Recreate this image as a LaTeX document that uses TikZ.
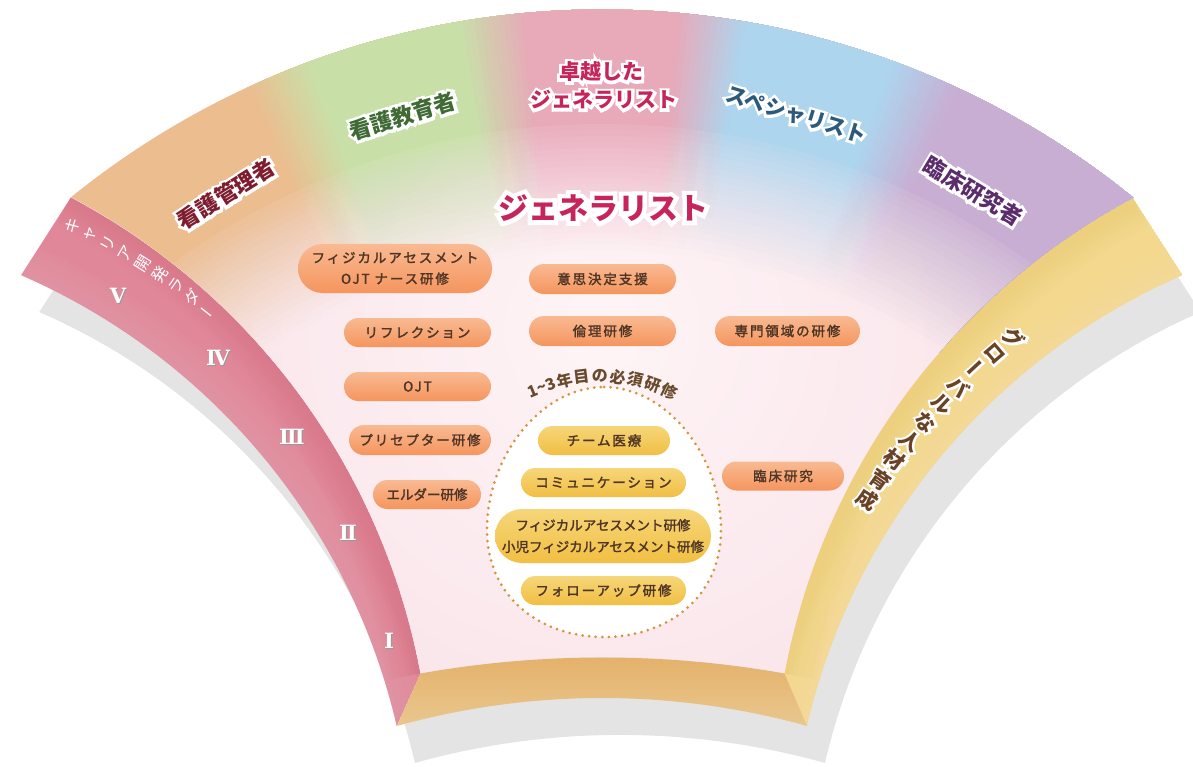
\documentclass[tikz,border=0pt]{standalone}
\usepackage{fontspec}
\setmainfont{Noto Sans CJK JP}
\newfontfamily\jp{Noto Sans CJK JP}
\newfontfamily\jpls{Noto Sans CJK JP}[LetterSpace=14,FakeBold=2]
\newfontfamily\jpmd{Noto Sans CJK JP}[FakeBold=2]
\newfontfamily\romn{DejaVu Serif}
\usetikzlibrary{calc,shapes.misc}

\definecolor{shadowC}{HTML}{E4E4E4}
\definecolor{faceC}{HTML}{F8E0E7}
\definecolor{glowC}{HTML}{FEF4F6}
\definecolor{secO}{HTML}{ECBD8F}
\definecolor{secG}{HTML}{C8E0A8}
\definecolor{secP}{HTML}{E8A9B9}
\definecolor{secB}{HTML}{ADD5EE}
\definecolor{secV}{HTML}{C8AED3}
\definecolor{bandP}{HTML}{E0889A}
\definecolor{bandPd}{HTML}{D46C80}
\definecolor{bandPl}{HTML}{EBA2AD}
\definecolor{bandY}{HTML}{F3D88E}
\definecolor{bandYd}{HTML}{EDCA72}
\definecolor{bandYl}{HTML}{F7E1A2}
\definecolor{wallT}{HTML}{E4B068}
\definecolor{wallB}{HTML}{E9C78E}
\definecolor{pillOt}{HTML}{F9BA92}
\definecolor{pillOb}{HTML}{F5955E}
\definecolor{pillYt}{HTML}{F6D679}
\definecolor{pillYb}{HTML}{F1BF43}
\definecolor{pillTx}{HTML}{4E3526}
\definecolor{dotC}{HTML}{D8923A}
\definecolor{arcTx}{HTML}{6A4A2C}
\definecolor{hdMgr}{HTML}{7E1D30}
\definecolor{hdEdu}{HTML}{3F6A34}
\definecolor{hdGen}{HTML}{C6245A}
\definecolor{hdSpc}{HTML}{2D5A7C}
\definecolor{hdRes}{HTML}{5B2D6C}
\definecolor{bandTx}{HTML}{6A4327}

\tikzset{
  pill/.style={rounded rectangle, inner sep=0pt, text=pillTx, align=center,
    font=\jpls\fontsize{13.5}{21}\selectfont},
  pillO/.style={pill, top color=pillOt, bottom color=pillOb},
  pillY/.style={pill, top color=pillYt, bottom color=pillYb},
  tight/.style={font=\jpmd\fontsize{13.5}{21.5}\selectfont},
  roman/.style={text=white, inner sep=0pt, font=\romn\bfseries\fontsize{21}{21}\selectfont},
  eggline/.style={draw=dotC, line width=3pt, line cap=round, dash pattern=on 0pt off 6.6pt},
}

% text with a white halo, in one box: #1 halo strength, #2 colour, #3 text
\newcommand\halobox[3]{\leavevmode\rlap{\addfontfeature{FakeBold=#1}\color{white}#3}{\color{#2}#3}}
% #1 name, #2 position, #3 rotation, #4 colour, #5 font, #6 halo strength, #7 text
\newcommand\halotext[7]{%
  \node[rotate=#3, font={#5}, inner sep=0pt] (#1) at #2 {\halobox{#6}{#4}{#7}};
}

% opaque colour wedge from angle #1 to the right end of the fan
\newcommand\secfill[2]{%
  \fill[#2] (#1:870) arc[start angle=#1,end angle=-35,radius=870] -- (-35:604) arc[start angle=-35,end angle=#1,radius=604] -- cycle;}

\def\outlinepath{(21.2,275.1) -- (70.9,198.1) arc[start angle=-129,end angle=-51,radius=844]
  -- (1182.6,275.1) arc[start angle=-113.5,end angle=-166.9,radius=653]
  arc[start angle=-74.44,end angle=-105.56,radius=764.4]
  arc[start angle=-13.1,end angle=-66.5,radius=653] -- cycle}
\def\facepath{(70.8,197.5) arc[start angle=-129,end angle=-51,radius=844]
  arc[start angle=-118.1,end angle=-169.4,radius=681]
  arc[start angle=-79.95,end angle=-100.05,radius=1043]
  arc[start angle=-10.6,end angle=-62,radius=681] -- cycle}
\def\pinkpath{(70.8,197.5) arc[start angle=-62,end angle=-10.6,radius=681]
  -- (396.8,726) arc[start angle=-13.1,end angle=-66.5,radius=653] -- cycle}
\def\yellowpath{(1133.1,198.1) -- (1182.6,275.1) arc[start angle=-113.5,end angle=-166.9,radius=653]
  -- (784.5,673.5) arc[start angle=-169.4,end angle=-118.1,radius=681] -- cycle}
\def\wallpath{(420.5,673.5) arc[start angle=-100.05,end angle=-79.95,radius=1043]
  -- (807,726) arc[start angle=-74.44,end angle=-105.56,radius=764.4] -- cycle}

\begin{document}
\begin{tikzpicture}[x=1pt,y=-1pt]
\useasboundingbox (0,0) rectangle (1193,767);

% shadow
\fill[shadowC, shift={(18,37)}] \outlinepath;

% left band
\begin{scope}
  \clip \pinkpath;
  \fill[bandP] \pinkpath;
  \foreach \w in {8,16,...,64}{
    \draw[bandPl, line width=\w, opacity=0.09] (21.2,275.1) arc[start angle=-66.5,end angle=-13.1,radius=653];
    \draw[bandPd, line width=\w, opacity=0.07] (70.8,197.5) arc[start angle=-62,end angle=-10.6,radius=681];
  }
\end{scope}

% right band
\begin{scope}
  \clip \yellowpath;
  \fill[bandY] \yellowpath;
  \foreach \w in {8,16,...,64}{
    \draw[bandYl, line width=\w, opacity=0.1] (1182.6,275.1) arc[start angle=-113.5,end angle=-166.9,radius=653];
    \draw[bandYd, line width=\w, opacity=0.08] (1133.1,198.1) arc[start angle=-118.1,end angle=-169.4,radius=681];
  }
\end{scope}

% bottom wall
\shade[top color=wallT, bottom color=wallB] \wallpath;

% face
\begin{scope}
  \clip \facepath;
  \fill[faceC] \facepath;
  \shade[inner color=glowC, outer color=faceC] (602,330) circle (560);
  % coloured career sectors (opaque, overlapping to avoid seams)
  \begin{scope}[shift={(602,854)}]
    \secfill{-145}{secO}
    \foreach \th/\ca/\cb in {-112.5/secO/secG,-97.5/secG/secP,-82.5/secP/secB,-67.5/secB/secV}{
      \foreach \k in {0,...,11}{
        \pgfmathsetmacro\aa{\th-2.4+0.4*\k}
        \pgfmathsetmacro\m{100-(\k+0.5)*100/12}
        \secfill{\aa}{\ca!\m!\cb}
      }
      \pgfmathsetmacro\aa{\th+2.4}
      \secfill{\aa}{\cb}
    }
  \end{scope}
  % fade the sectors back into the face, nested covers
  \xdef\fprev{1}
  \foreach \r in {730,724,...,610}{
    \pgfmathsetmacro\fk{0.92*pow((\r-607)/126,1.3)}
    \pgfmathsetmacro\al{1-\fk/\fprev}
    \xdef\fprev{\fk}
    \begin{scope}
      \clip[shift={(602,854)}] (-145:\r) arc[start angle=-145,end angle=-35,radius=\r] -- (-35:590) arc[start angle=-35,end angle=-145,radius=590] -- cycle;
      \shade[opacity=\al, inner color=glowC, outer color=faceC] (602,330) circle (560);
    \end{scope}
  }
\end{scope}

% headings
\halotext{hMgr}{(226,194)}{32}{hdMgr}{\jp\bfseries\fontsize{22}{22}\selectfont}{26}{看護管理者}
\halotext{hEdu}{(403,116)}{17}{hdEdu}{\jp\bfseries\fontsize{22}{22}\selectfont}{26}{看護教育者}
\halotext{hTopA}{(601,72)}{0}{hdGen}{\jp\bfseries\fontsize{21}{21}\selectfont}{27}{卓越した}
\halotext{hTopB}{(604,100)}{0}{hdGen}{\jp\bfseries\fontsize{21}{21}\selectfont}{27}{ジェネラリスト}
\halotext{hSpc}{(796,115)}{-17}{hdSpc}{\jp\bfseries\fontsize{21}{21}\selectfont}{27}{スペシャリスト}
\halotext{hRes}{(973,191)}{-31}{hdRes}{\jp\bfseries\fontsize{22}{22}\selectfont}{26}{臨床研究者}
\halotext{hGen}{(603,208)}{0}{hdGen}{\jp\bfseries\fontsize{30}{30}\selectfont}{30}{ジェネラリスト}

% left band text (vertical writing along the band)
\foreach \ch/\ex [count=\i from 0] in {キ/0,ャ/0,リ/0,ア/0,開/0,発/0,ラ/0,ダ/0,ー/90}{
  \pgfmathsetmacro\t{-64.3+1.59*\i}
  \pgfmathsetmacro\rot{-\t+\ex}
  \node[rotate=\rot, text=white, inner sep=0pt, font=\jp\fontsize{16}{16}\selectfont] (lad\i) at ($(-239.2,874)+(\t:720)$) {\ch};
}

% right band text
\foreach \ch/\ex [count=\i from 0] in {グ/0,ロ/0,ー/90,バ/0,ル/0,な/0,人/0,材/0,育/0,成/0}{
  \pgfmathsetmacro\t{-128.7-2.033*\i}
  \pgfmathsetmacro\rot{-\t-180+\ex}
  \halotext{glo\i}{($(1443,874)+(\t:687)$)}{\rot}{bandTx}{\jp\bfseries\fontsize{20.5}{20.5}\selectfont}{22}{\ch}
}

% roman numerals
\foreach \nm/\px/\py/\txt in {r5/118/296/Ⅴ, r4/218/358/Ⅳ, r3/292/437/Ⅲ, r2/348/533/Ⅱ, r1/389/641/Ⅰ}{
  \node[roman] (\nm) at (\px,\py) {\leavevmode\rlap{\color{black!40}\raisebox{-1.2pt}{\kern1pt\txt}}\txt};
}

% egg
\draw[eggline, fill=white] (604,387) .. controls (666,387) and (721,455) .. (721,530)
  .. controls (721,597) and (668,637) .. (604,637)
  .. controls (540,637) and (487,597) .. (487,530)
  .. controls (487,455) and (542,387) .. (604,387) -- cycle;

% curved label
\foreach \ch/\t [count=\i] in {1{\textasciitilde}3/-112.3,年/-103.5,目/-96.9,の/-90.4,必/-83.8,須/-77.2,研/-70.7,修/-64.1}{
  \pgfmathsetmacro\rot{-(\t+90)}
  \node[text=arcTx, inner sep=0pt, rotate=\rot, font=\jp\bfseries\fontsize{16}{16}\selectfont] (arc\i) at ($(601,533)+(\t:157)$) {\ch};
}

% orange pills
\node[pillO, minimum width=194pt, minimum height=49pt] (p1) at (395,268.5) {フィジカルアセスメント\\OJT ナース研修};
\node[pillO, minimum width=147pt, minimum height=30pt] (p2) at (602.5,279) {意思決定支援};
\node[pillO, minimum width=147pt, minimum height=29pt] (p3) at (417.5,332.5) {リフレクション};
\node[pillO, minimum width=147pt, minimum height=30pt] (p4) at (602.5,331) {倫理研修};
\node[pillO, minimum width=145pt, minimum height=30pt] (p5) at (787.5,331) {専門領域の研修};
\node[pillO, minimum width=147pt, minimum height=29pt] (p6) at (417.5,386.5) {OJT};
\node[pillO, minimum width=142pt, minimum height=30pt] (p7) at (420,440) {プリセプター研修};
\node[pillO, tight, minimum width=108pt, minimum height=29pt] (p8) at (427,494.5) {エルダー研修};
\node[pillO, minimum width=122pt, minimum height=29pt] (p9) at (783,476) {臨床研究};

% yellow pills
\node[pillY, minimum width=132pt, minimum height=29pt] (y1) at (604,440.5) {チーム医療};
\node[pillY, minimum width=165pt, minimum height=29pt] (y2) at (603.5,482.5) {コミュニケーション};
\node[pillY, tight, minimum width=216pt, minimum height=54pt] (y3) at (603,536) {フィジカルアセスメント研修\\小児フィジカルアセスメント研修};
\node[pillY, minimum width=165pt, minimum height=29pt] (y4) at (603.5,590.5) {フォローアップ研修};

\end{tikzpicture}
\end{document}
